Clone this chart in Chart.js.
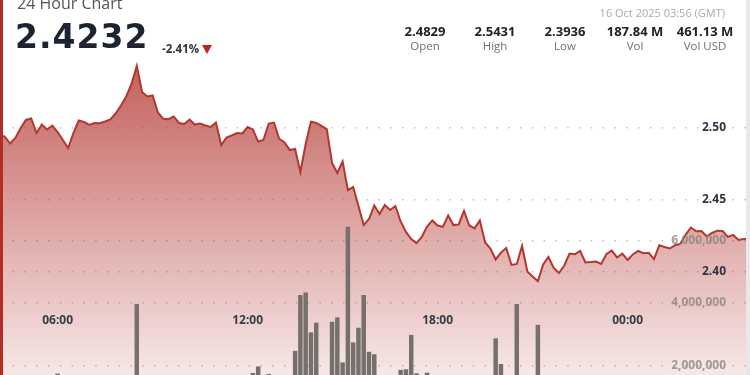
<!DOCTYPE html>
<html>
<head>
<meta charset="utf-8">
<script src="https://cdn.jsdelivr.net/npm/chart.js@4.4.0/dist/chart.umd.min.js"></script>
<style>
  html, body { margin: 0; padding: 0; width: 750px; height: 375px; overflow: hidden; background: #fff; font-family: "Open Sans", sans-serif; }
  #wrap { position: absolute; left: -11px; top: 0; width: 760px; height: 428px; }
  .t { position: absolute; line-height: 1; white-space: nowrap; }
  #title { left: 17px; top: -5px; font-size: 16px; color: #555; }
  #last { left: 15px; top: 20px; font-family: "DejaVu Sans", sans-serif; font-weight: bold; font-size: 33px; letter-spacing: 1px; color: #1c2433; }
  #chg { left: 162px; top: 43px; font-size: 11.5px; font-weight: bold; color: #333; }
  #tri { position: absolute; left: 202px; top: 45px; width: 0; height: 0; border-left: 5px solid transparent; border-right: 5px solid transparent; border-top: 9px solid #b8281e; }
  #date { right: 25px; top: 7px; font-size: 11px; color: #aaa; }
  .stat { position: absolute; width: 70px; text-align: center; line-height: 1; }
  .stat b { position: absolute; left: 0; width: 70px; top: 25px; font-size: 13px; color: #222; }
  .stat span { position: absolute; left: 0; width: 70px; top: 40px; font-size: 11.5px; color: #707070; }
  #lb { position: absolute; left: 0; top: 0; width: 3px; height: 375px; background: #b32d24; }
  #rb { position: absolute; left: 746px; top: 0; width: 4px; height: 375px; background: #e8e8e8; }
</style>
</head>
<body>
<div id="wrap"><canvas id="chart"></canvas></div>
<div class="t" id="title">24 Hour Chart</div>
<div class="t" id="last">2.4232</div>
<div class="t" id="chg">-2.41%</div>
<div id="tri"></div>
<div class="t" id="date">16 Oct 2025 03:56 (GMT)</div>
<div id="stats"></div>
<div id="lb"></div>
<div id="rb"></div>
<script>
// 10 minute steps, 03:50 -> 03:50 next day
const timeLabels = [
  "03:50",
  "04:00","04:10","04:20","04:30","04:40","04:50",
  "05:00","05:10","05:20","05:30","05:40","05:50",
  "06:00","06:10","06:20","06:30","06:40","06:50",
  "07:00","07:10","07:20","07:30","07:40","07:50",
  "08:00","08:10","08:20","08:30","08:40","08:50",
  "09:00","09:10","09:20","09:30","09:40","09:50",
  "10:00","10:10","10:20","10:30","10:40","10:50",
  "11:00","11:10","11:20","11:30","11:40","11:50",
  "12:00","12:10","12:20","12:30","12:40","12:50",
  "13:00","13:10","13:20","13:30","13:40","13:50",
  "14:00","14:10","14:20","14:30","14:40","14:50",
  "15:00","15:10","15:20","15:30","15:40","15:50",
  "16:00","16:10","16:20","16:30","16:40","16:50",
  "17:00","17:10","17:20","17:30","17:40","17:50",
  "18:00","18:10","18:20","18:30","18:40","18:50",
  "19:00","19:10","19:20","19:30","19:40","19:50",
  "20:00","20:10","20:20","20:30","20:40","20:50",
  "21:00","21:10","21:20","21:30","21:40","21:50",
  "22:00","22:10","22:20","22:30","22:40","22:50",
  "23:00","23:10","23:20","23:30","23:40","23:50",
  "00:00","00:10","00:20","00:30","00:40","00:50",
  "01:00","01:10","01:20","01:30","01:40","01:50",
  "02:00","02:10","02:20","02:30","02:40","02:50",
  "03:00","03:10","03:20","03:30","03:40","03:50"
];

const prices = [
  2.4958, 2.4972, 2.4955, 2.4938, 2.4892, 2.4931, 2.5000, 2.5056, 2.5066, 2.4965,
  2.5024, 2.4990, 2.5017, 2.4972, 2.4917, 2.4861, 2.4965, 2.5052, 2.5042, 2.5021,
  2.5035, 2.5033, 2.5045, 2.5059, 2.5101, 2.5156, 2.5219, 2.5306, 2.5431, 2.5250,
  2.5219, 2.5226, 2.5108, 2.5064, 2.5061, 2.5080, 2.5035, 2.5028, 2.5059, 2.5024,
  2.5031, 2.5017, 2.5007, 2.5038, 2.4882, 2.4934, 2.4948, 2.4965, 2.4962, 2.5007,
  2.4990, 2.4906, 2.4917, 2.5031, 2.5038, 2.4924, 2.4899, 2.4847, 2.4854, 2.4694,
  2.4889, 2.5043, 2.5035, 2.5014, 2.4993, 2.4757, 2.4688, 2.4767, 2.4569, 2.4590,
  2.4458, 2.4326, 2.4368, 2.4462, 2.4403, 2.4465, 2.4431, 2.4458, 2.4351, 2.4278,
  2.4229, 2.4201, 2.4243, 2.4316, 2.4358, 2.4323, 2.4313, 2.4392, 2.4326, 2.4330,
  2.4424, 2.4323, 2.4303, 2.4358, 2.4205, 2.4163, 2.4087, 2.4135, 2.4167, 2.4049,
  2.4056, 2.4181, 2.4003, 2.3969, 2.3936, 2.4052, 2.4104, 2.4028, 2.3993, 2.4045,
  2.4128, 2.4123, 2.4146, 2.4066, 2.4069, 2.4073, 2.4056, 2.4125, 2.4149, 2.4101,
  2.4128, 2.4083, 2.4122, 2.4146, 2.4131, 2.4133, 2.4090, 2.4186, 2.4174, 2.4163,
  2.4186, 2.4197, 2.4260, 2.4309, 2.4283, 2.4285, 2.4247, 2.4271, 2.4287, 2.4285,
  2.4244, 2.4257, 2.4222, 2.4229, 2.4232
];

const volumes = [
  620000, 480000, 710000, 550000, 900000, 430000, 1050000, 760000, 520000, 680000,
  1200000, 590000, 840000, 1740000, 1100000, 980000, 640000, 720000, 1150000, 560000,
  470000, 830000, 610000, 950000, 520000, 1300000, 1480000, 1600000, 3970000, 1420000,
  1250000, 880000, 1050000, 690000, 760000, 540000, 910000, 620000, 830000, 470000,
  700000, 580000, 990000, 1350000, 1100000, 860000, 640000, 720000, 950000, 1280000,
  1760000, 1970000, 1400000, 1730000, 1200000, 1350000, 1100000, 1550000, 2470000, 4260000,
  4340000, 3060000, 3370000, 1500000, 1300000, 3400000, 3540000, 2100000, 6440000, 2740000,
  3210000, 4260000, 2440000, 2360000, 1450000, 1200000, 1350000, 1000000, 1860000, 1880000,
  2980000, 1750000, 1250000, 1770000, 900000, 1150000, 780000, 1020000, 640000, 1300000,
  850000, 1100000, 720000, 960000, 1400000, 1550000, 2870000, 2050000, 1450000, 1250000,
  3970000, 1350000, 1500000, 1600000, 3300000, 1400000, 1100000, 980000, 1250000, 870000,
  1150000, 760000, 690000, 940000, 580000, 820000, 1050000, 700000, 630000, 900000,
  540000, 760000, 480000, 650000, 590000, 820000, 450000, 700000, 1000000, 620000,
  860000, 1150000, 730000, 560000, 910000, 680000, 520000, 790000, 640000, 450000,
  710000, 600000, 830000, 540000, 480000
];

const timeTicks = ["06:00", "12:00", "18:00", "00:00"];
const priceTicks = [2.40, 2.45, 2.50];
const volumeTicks = [2000000, 4000000, 6000000];

const statValues = ["2.4829", "2.5431", "2.3936", "187.84 M", "461.13 M"];
const statNames = ["Open", "High", "Low", "Vol", "Vol USD"];

// axis ranges (canvas is taller than the window, the bottom is cut off)
const priceAxisMin = 2.29167;
const priceAxisMax = 2.58889;
const volumeAxisMax = 13696000;

let stats = document.getElementById("stats");
for (let i = 0; i < statValues.length; i++) {
    let d = document.createElement("div");
    d.className = "stat";
    d.style.left = (390 + i * 70) + "px";
    d.innerHTML = "<b>" + statValues[i] + "</b><span>" + statNames[i] + "</span>";
    stats.appendChild(d);
}

// all tick labels sit inside the plot area
const insideTicksPlugin = {
    id: "insideTicks",
    afterDatasetsDraw(chart) {
        let ctx = chart.ctx;
        let x = chart.scales.x;
        let right = chart.chartArea.right - 23;
        ctx.save();
        ctx.textBaseline = "middle";

        ctx.font = "bold 12px 'Open Sans'";
        ctx.fillStyle = "#353c4a";
        ctx.textAlign = "center";
        timeTicks.forEach(t => {
            ctx.fillText(t, x.getPixelForValue(timeLabels.indexOf(t)), 321);
        });

        ctx.textAlign = "right";
        ctx.fillStyle = "#2f3542";
        priceTicks.forEach(v => {
            ctx.fillText(v.toFixed(2), right, chart.scales.y.getPixelForValue(v));
        });

        ctx.fillStyle = "rgba(140,132,126,0.8)";
        volumeTicks.forEach(v => {
            ctx.fillText(v.toLocaleString("en-US"), right, chart.scales.yv.getPixelForValue(v));
        });
        ctx.restore();
    }
};

const dots = { display: false, dash: [1.5, 10.3] };

new Chart(document.getElementById("chart"), {
    data: {
        labels: timeLabels,
        datasets: [
            {
                type: "line",
                data: prices,
                yAxisID: "y",
                order: 1,
                borderColor: "#b5362d",
                borderWidth: 2,
                pointRadius: 0,
                tension: 0,
                fill: "start",
                backgroundColor: (c) => {
                    let area = c.chart.chartArea;
                    if (!area) return "rgba(175,45,40,0.3)";
                    let top = c.chart.scales.y.getPixelForValue(2.5431);
                    let g = c.chart.ctx.createLinearGradient(0, top, 0, area.bottom);
                    g.addColorStop(0, "rgba(175,45,40,0.75)");
                    g.addColorStop(1, "rgba(175,45,40,0)");
                    return g;
                }
            },
            {
                type: "bar",
                data: volumes,
                yAxisID: "yv",
                order: 2,
                backgroundColor: "#75706b",
                barPercentage: 0.85,
                categoryPercentage: 1
            }
        ]
    },
    options: {
        responsive: true,
        maintainAspectRatio: false,
        animation: false,
        layout: { padding: 0 },
        plugins: {
            legend: { display: false },
            tooltip: { enabled: false },
            filler: { drawTime: "beforeDatasetsDraw" }
        },
        scales: {
            x: { type: "category", offset: false, display: false },
            y: {
                position: "right",
                min: priceAxisMin,
                max: priceAxisMax,
                afterBuildTicks: s => { s.ticks = priceTicks.map(v => ({ value: v })); },
                afterFit: s => { s.width = 0; s.paddingTop = 0; s.paddingBottom = 0; },
                grid: { drawTicks: false, color: "rgba(150,150,150,0.6)", lineWidth: 1.5 },
                border: dots,
                ticks: { display: false }
            },
            yv: {
                position: "right",
                min: 0,
                max: volumeAxisMax,
                afterBuildTicks: s => { s.ticks = volumeTicks.map(v => ({ value: v })); },
                afterFit: s => { s.width = 0; s.paddingTop = 0; s.paddingBottom = 0; },
                grid: { drawTicks: false, color: "rgba(150,150,150,0.6)", lineWidth: 1.5 },
                border: dots,
                ticks: { display: false }
            }
        }
    },
    plugins: [insideTicksPlugin]
});
</script>
</body>
</html>
